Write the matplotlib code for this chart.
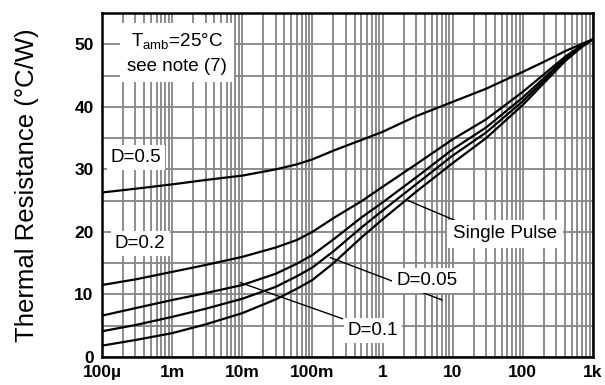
import matplotlib.pyplot as plt
from matplotlib.ticker import FixedLocator, NullFormatter

plt.rcParams['font.family'] = ['Liberation Sans', 'DejaVu Sans']

# pulse time (s) and thermal resistance (°C/W)
t = [1e-4, 3e-4, 1e-3, 3e-3, 1e-2, 3e-2, 6e-2, 1e-1, 2e-1, 5e-1, 1, 3, 10, 30, 100, 200, 400, 700, 1000]
r_d05 = [26.3, 26.9, 27.6, 28.3, 29.0, 30.0, 30.8, 31.6, 33.0, 34.7, 36.0, 38.5, 40.8, 42.9, 45.6, 47.2, 48.9, 50.1, 50.8]
r_d02 = [11.5, 12.4, 13.6, 14.7, 16.0, 17.5, 18.7, 20.0, 22.2, 24.9, 27.2, 30.8, 34.8, 38.0, 42.4, 45.2, 48.0, 49.9, 50.8]
r_d01 = [6.6, 7.8, 9.1, 10.2, 11.5, 13.3, 14.9, 16.3, 18.8, 22.3, 24.7, 28.7, 33.2, 36.7, 41.5, 44.6, 47.7, 49.8, 50.8]
r_d005 = [4.1, 5.1, 6.4, 7.7, 9.3, 11.2, 12.9, 14.3, 16.9, 20.7, 23.4, 27.6, 32.2, 35.9, 40.9, 44.2, 47.5, 49.7, 50.8]
r_single = [1.8, 2.7, 3.8, 5.2, 7.0, 9.2, 10.9, 12.3, 15.0, 19.1, 22.0, 26.4, 31.0, 35.0, 40.3, 43.8, 47.3, 49.6, 50.8]

x_ticks = [1e-4, 1e-3, 1e-2, 1e-1, 1, 10, 100, 1000]
x_labels = ['100µ', '1m', '10m', '100m', '1', '10', '100', '1k']
y_ticks = [0, 10, 20, 30, 40, 50]

fig = plt.figure(figsize=(6.05, 3.85), dpi=100)
ax = fig.add_axes([0.1686, 0.073, 0.8114, 0.893])

for r in [r_d05, r_d02, r_d01, r_d005, r_single]:
    ax.plot(t, r, color='black', lw=1.6, zorder=3, solid_capstyle='round', solid_joinstyle='round')

ax.set_xscale('log')
ax.set_xlim(1e-4, 1e3)
ax.set_ylim(0, 55)
ax.set_xticks(x_ticks)
ax.set_xticklabels(x_labels, fontsize=12.5, fontweight='bold')
minors = [m * 10.0 ** e for e in range(-4, 3) for m in range(2, 10)]
ax.xaxis.set_minor_locator(FixedLocator(minors))
ax.xaxis.set_minor_formatter(NullFormatter())
ax.set_yticks(y_ticks)
ax.set_yticklabels([str(v) for v in y_ticks], fontsize=12.5, fontweight='bold')
ax.yaxis.set_minor_locator(FixedLocator([5, 15, 25, 35, 45, 55]))
ax.tick_params(which='both', length=0)
ax.tick_params(axis='x', pad=6)
ax.tick_params(axis='y', pad=6)
ax.grid(which='both', color='#858585', lw=1.3, zorder=1)
ax.set_axisbelow(True)
for s in ax.spines.values():
    s.set_linewidth(1.8)
    s.set_zorder(6)

ax.set_ylabel('Thermal Resistance (°C/W)', fontsize=18.5)
ax.yaxis.set_label_coords(-0.128, 0.5)

box = dict(facecolor='white', edgecolor='none', pad=3)
ax.text(1.17e-3, 48.6, 'T$_{\\mathregular{amb}}$=25°C\nsee note (7)', fontsize=13.5, ha='center', va='center',
        linespacing=1.45, bbox=dict(facecolor='white', edgecolor='none', pad=5), zorder=5)
ax.text(3.05e-4, 31.9, 'D=0.5', fontsize=13.5, ha='center', va='center', bbox=box, zorder=5)
ax.text(3.5e-4, 18.1, 'D=0.2', fontsize=13.5, ha='center', va='center', bbox=box, zorder=5)

line = dict(arrowstyle='-', color='black', lw=1.0, shrinkA=0, shrinkB=0)
ax.annotate('', xy=(2.32, 25.0), xytext=(11.0, 21.8), arrowprops=line, zorder=4)
ax.text(56, 19.7, 'Single Pulse', fontsize=13.5, ha='center', va='center',
        bbox=dict(facecolor='white', edgecolor='none', pad=4), zorder=5)
ax.annotate('', xy=(0.179, 15.9), xytext=(7.1, 9.1), arrowprops=line, zorder=4)
ax.text(4.3, 12.2, 'D=0.05', fontsize=13.5, ha='center', va='center', bbox=box, zorder=5)
ax.annotate('', xy=(9.3e-3, 11.9), xytext=(0.27, 6.1), arrowprops=line, zorder=4)
ax.text(0.73, 4.2, 'D=0.1', fontsize=13.5, ha='center', va='center', bbox=box, zorder=5)

fig.savefig('out.png', dpi=100)
